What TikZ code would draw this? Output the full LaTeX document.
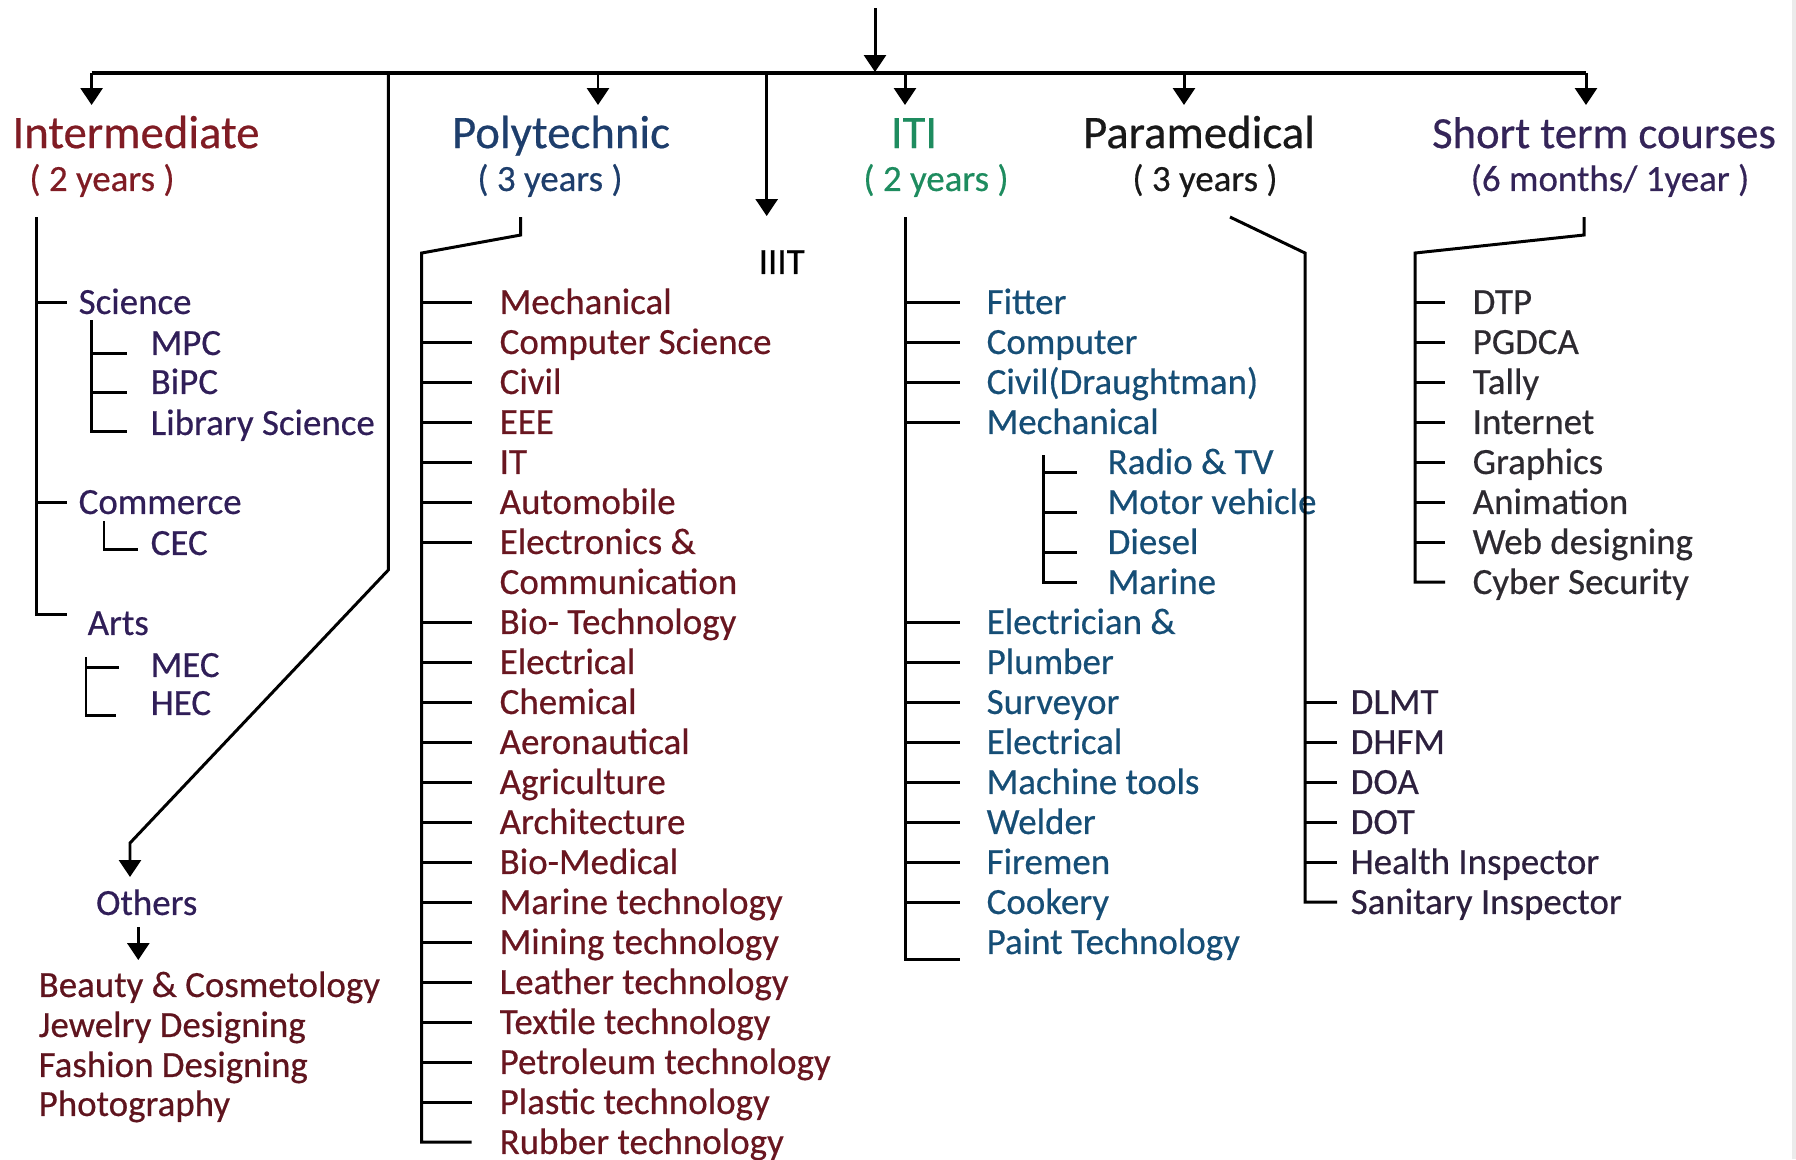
\documentclass[tikz,border=0pt]{standalone}
\usepackage{fontspec}
\setmainfont{Carlito}[FakeBold=0.45]
\usetikzlibrary{arrows.meta}
\definecolor{cIntHead}{RGB}{128,28,36}
\definecolor{cIntSub}{RGB}{48,30,88}
\definecolor{cPolyHead}{RGB}{30,62,108}
\definecolor{cPolyItem}{RGB}{105,22,32}
\definecolor{cItiHead}{RGB}{30,140,95}
\definecolor{cItiItem}{RGB}{22,78,118}
\definecolor{cParaHead}{RGB}{25,25,25}
\definecolor{cParaItem}{RGB}{45,32,62}
\definecolor{cShortHead}{RGB}{52,36,88}
\definecolor{cShortItem}{RGB}{45,42,48}
\definecolor{cOthItem}{RGB}{95,20,30}
\begin{document}
\begin{tikzpicture}[x=0.01cm,y=-0.01cm,
  line/.style={line width=0.85pt, black},
  mainline/.style={line width=1.2pt, black},
  arr/.style={-{Triangle[length=4.8pt,width=6.2pt]}},
  item/.style={anchor=west, inner sep=0pt, text height=6.8pt, text depth=0pt, font=\fontsize{10.5}{12}\selectfont},
  sub/.style={inner sep=0pt, text height=6.8pt, text depth=0pt, font=\fontsize{10.5}{12}\selectfont},
  head/.style={inner sep=0pt, text height=8.6pt, text depth=0pt, font=\fontsize{13.3}{15}\selectfont}]
\useasboundingbox (0,0) rectangle (1796,1159);
\fill[white] (0,0) rectangle (1796,1159);
\fill[black!8] (1792,0) rectangle (1796,1159);

% ---------- headers ----------
\node[head, text=cIntHead] (int) at (136,133) {Intermediate};
\node[sub, text=cIntHead] (intY) at (102,179) {( 2 years )};
\node[head, text=cPolyHead] (poly) at (561,133) {Polytechnic};
\node[sub, text=cPolyHead] (polyY) at (550,179) {( 3 years )};
\node[head, text=cItiHead] (iti) at (914,133) {ITI};
\node[sub, text=cItiHead] (itiY) at (936,179) {( 2 years )};
\node[head, text=cParaHead] (para) at (1199,133) {Paramedical};
\node[sub, text=cParaHead] (paraY) at (1205,179) {( 3 years )};
\node[head, text=cShortHead, font=\fontsize{12.7}{15}\selectfont] (short) at (1604,133) {Short term courses};
\node[sub, text=cShortHead] (shortY) at (1610,179) {(6 months/ 1year )};
\node[sub, text=black] (iiit) at (781.7,262) {IIIT};

% ---------- main bar and arrows ----------
\coordinate (topS) at (875,8);
\coordinate (topE) at (875,72);
\coordinate (mL) at (91.6,73);
\coordinate (mR) at (1586,73);
\draw[mainline] (mL) -- (mR);
\draw[line,arr] (topS) -- (topE);
\foreach \n/\x in {int/91.6, poly/598, iti/905, para/1184, short/1586}{
  \coordinate (\n Top) at (\x,73);
  \coordinate (\n Tip) at (\x,105);
  \draw[line,arr] (\n Top) -- (\n Tip);
}
\coordinate (iiiTop) at (766.7,73);
\coordinate (iiiTip) at (766.7,216);
\draw[line,arr] (iiiTop) -- (iiiTip);

% ---------- Intermediate ----------
\node[item, text=cIntSub] (sci) at (78,302) {Science};
\node[item, text=cIntSub] (mpc) at (150,343) {MPC};
\node[item, text=cIntSub] (bipc) at (150,382) {BiPC};
\node[item, text=cIntSub] (lib) at (150,423) {Library Science};
\node[item, text=cIntSub] (com) at (78,502) {Commerce};
\node[item, text=cIntSub] (cec) at (150,543) {CEC};
\node[item, text=cIntSub] (arts) at (87,623) {Arts};
\node[item, text=cIntSub] (mec) at (150,665) {MEC};
\node[item, text=cIntSub] (hec) at (150,703) {HEC};

\coordinate (inA) at (36.7,217);
\coordinate (inB) at (36.7,614);
\coordinate (inE) at (67,614);
\draw[line] (inA) -- (inB) -- (inE);
\draw[line] (inA |- sci.west) -- (inE |- sci.west);
\draw[line] (inA |- com.west) -- (inE |- com.west);

\coordinate (scA) at (91.7,320);
\coordinate (scE) at (126.7,320);
\draw[line] (scA) -- ([yshift=-2.5]scA |- lib.west) -- ([yshift=-2.5]scE |- lib.west);
\draw[line] ([yshift=-3]scA |- mpc.west) -- ([yshift=-3]scE |- mpc.west);
\draw[line] ([yshift=-3]scA |- bipc.west) -- ([yshift=-3]scE |- bipc.west);

\coordinate (ceA) at (104,521);
\coordinate (ceB) at (104,549);
\coordinate (ceE) at (138,549);
\draw[line] (ceA) -- (ceB) -- (ceE);

\coordinate (meA) at (86,657);
\coordinate (meB) at (86,715);
\coordinate (meE) at (116,715);
\coordinate (meT) at (119,667);
\draw[line] (meA) -- (meB) -- (meE);
\draw[line] (meA |- meT) -- (meT);

% ---------- Others ----------
\coordinate (lbTop) at (388.3,73);
\coordinate (lbBend) at (388.3,570);
\coordinate (lbDiag) at (130,843);
\coordinate (lbTip) at (130,877);
\draw[line,arr] (lbTop) -- (lbBend) -- (lbDiag) -- (lbTip);
\node[sub, text=cIntSub] (oth) at (146.7,903) {Others};
\coordinate (othS) at (138.3,927);
\coordinate (othE) at (138.3,960);
\draw[line,arr] (othS) -- (othE);
\node[item, text=cOthItem] (o1) at (38,985) {Beauty \& Cosmetology};
\node[item, text=cOthItem] (o2) at (38,1025) {Jewelry Designing};
\node[item, text=cOthItem] (o3) at (38,1065) {Fashion Designing};
\node[item, text=cOthItem] (o4) at (38,1104) {Photography};

% ---------- Polytechnic ----------
\foreach \k/\t in {0/Mechanical, 1/Computer Science, 2/Civil, 3/EEE, 4/IT, 5/Automobile,
  6/Electronics \&, 7/Communication, 8/Bio- Technology, 9/Electrical, 10/Chemical,
  11/Aeronautical, 12/Agriculture, 13/Architecture, 14/Bio-Medical, 15/Marine technology,
  16/Mining technology, 17/Leather technology, 18/Textile technology,
  19/Petroleum technology, 20/Plastic technology, 21/Rubber technology}{
  \node[item, text=cPolyItem] (p\k) at (499,302+40*\k) {\t};
}
\coordinate (pA) at (520.7,217);
\coordinate (pB) at (520.7,235);
\coordinate (pT) at (421.7,253);
\coordinate (pE) at (471.7,253);
\draw[line] (pA) -- (pB) -- (pT) -- (pT |- p21.west) -- (pE |- p21.west);
\foreach \k in {0,1,2,3,4,5,6,8,9,10,11,12,13,14,15,16,17,18,19,20}{
  \draw[line] (pT |- p\k.west) -- (pE |- p\k.west);
}

% ---------- ITI ----------
\foreach \k/\t in {0/Fitter, 1/Computer, 2/Civil(Draughtman), 3/Mechanical,
  8/Electrician \&, 9/Plumber, 10/Surveyor, 11/Electrical, 12/Machine tools,
  13/Welder, 14/Firemen, 15/Cookery, 16/Paint Technology}{
  \node[item, text=cItiItem] (i\k) at (986,302+40*\k) {\t};
}
\foreach \k/\t in {4/Radio \& TV, 5/Motor vehicle, 6/Diesel, 7/Marine}{
  \node[item, text=cItiItem] (i\k) at (1107,302+40*\k) {\t};
}
\coordinate (iT) at (905,217);
\coordinate (iE) at (960,217);
\draw[line] (iT) -- ([yshift=-5]iT |- i16.west) -- ([yshift=-5]iE |- i16.west);
\foreach \k in {0,1,2,3,8,9,10,11,12,13,14,15}{
  \draw[line] (iT |- i\k.west) -- (iE |- i\k.west);
}
\coordinate (sT) at (1043.3,455);
\coordinate (sE) at (1076.7,455);
\draw[line] (sT) -- (sT |- i7.west) -- (sE |- i7.west);
\foreach \k in {4,5,6}{
  \draw[line] ([yshift=-3]sT |- i\k.west) -- ([yshift=-3]sE |- i\k.west);
}

% ---------- Paramedical ----------
\foreach \k/\t in {10/DLMT, 11/DHFM, 12/DOA, 13/DOT, 14/Health Inspector, 15/Sanitary Inspector}{
  \node[item, text=cParaItem] (m\k) at (1350,302+40*\k) {\t};
}
\coordinate (mA) at (1230,217);
\coordinate (mT) at (1305,253);
\coordinate (mE) at (1337,253);
\draw[line] (mA) -- (mT) -- (mT |- m15.west) -- (mE |- m15.west);
\foreach \k in {10,11,12,13,14}{
  \draw[line] (mT |- m\k.west) -- (mE |- m\k.west);
}

% ---------- Short term ----------
\foreach \k/\t in {0/DTP, 1/PGDCA, 2/Tally, 3/Internet, 4/Graphics, 5/Animation,
  6/Web designing, 7/Cyber Security}{
  \node[item, text=cShortItem] (s\k) at (1472,302+40*\k) {\t};
}
\coordinate (stA) at (1584,217);
\coordinate (stB) at (1584,235);
\coordinate (stT) at (1415,253);
\coordinate (stE) at (1445,253);
\draw[line] (stA) -- (stB) -- (stT) -- (stT |- s7.west) -- (stE |- s7.west);
\foreach \k in {0,1,2,3,4,5,6}{
  \draw[line] (stT |- s\k.west) -- (stE |- s\k.west);
}
\end{tikzpicture}
\end{document}
